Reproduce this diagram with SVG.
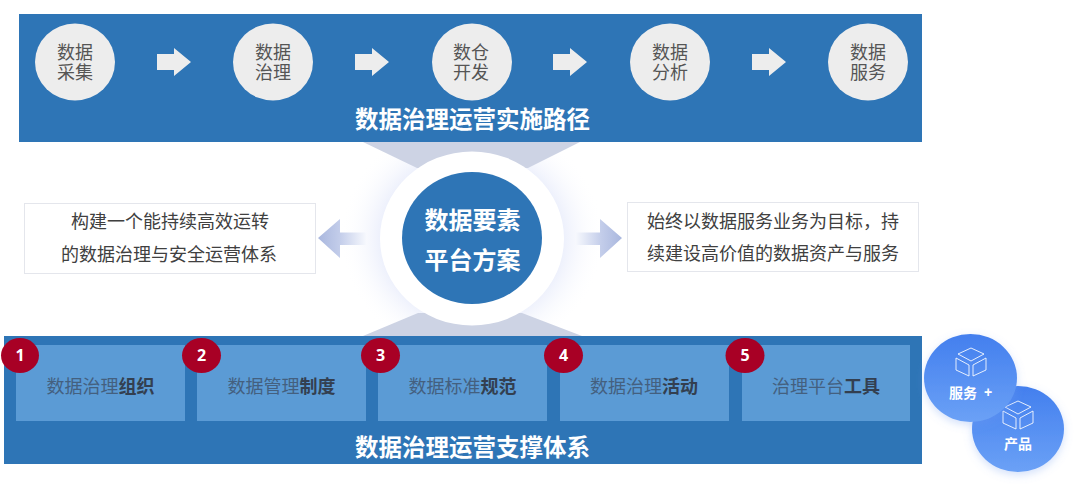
<svg xmlns="http://www.w3.org/2000/svg" width="1080" height="492" viewBox="0 0 1080 492">
<style>
text{font-family:"Liberation Sans","Noto Sans CJK SC",sans-serif;text-anchor:middle}
.band{fill:#2e75b6}
.step{fill:#ededed}
.st{font-size:18px;fill:#555}
.title{font-size:23.500px;font-weight:700;fill:#fff}
.flow{fill:#ededed}
.card{fill:#5b9bd5}
.ct{font-size:18px;fill:#44607f}
.ct tspan{font-weight:700;fill:#333f50}
.badge{fill:#a80025}
.bt{font-size:16px;font-weight:700;fill:#fff;font-family:"Open Sans","Liberation Sans",sans-serif}
.box{fill:#fff;stroke:#e4e6ec;stroke-width:1}
.bx{font-size:18px;fill:#404040}
.wedge{fill:#cdd3e4}
.ct2{font-size:24px;font-weight:700;fill:#fff}
.pill{fill:url(#pg);filter:url(#ps)}
.pt{font-size:14px;font-weight:700;fill:#fff}
.ico{fill:none;stroke:#fff;stroke-width:1;stroke-linejoin:round;opacity:.85}
</style>
<defs>
<linearGradient id="pg" x1="0" y1="0" x2="0" y2="1"><stop offset="0" stop-color="#437fee"/><stop offset="1" stop-color="#6ba1f6"/></linearGradient>
<linearGradient id="al" x1="318" y1="0" x2="366" y2="0" gradientUnits="userSpaceOnUse"><stop offset="0" stop-color="#a9b7de"/><stop offset=".45" stop-color="#c3cdea"/><stop offset="1" stop-color="#f6f8fd"/></linearGradient>
<linearGradient id="ar" x1="622" y1="0" x2="576" y2="0" gradientUnits="userSpaceOnUse"><stop offset="0" stop-color="#a9b7de"/><stop offset=".45" stop-color="#c3cdea"/><stop offset="1" stop-color="#f6f8fd"/></linearGradient>
<radialGradient id="glow"><stop offset=".7" stop-color="#eef1fc"/><stop offset="1" stop-color="#fff" stop-opacity="0"/></radialGradient>
<filter id="ps" x="-30%" y="-30%" width="160%" height="160%"><feDropShadow dx="0" dy="3" stdDeviation="4" flood-color="#6f9bf0" flood-opacity=".3"/></filter>
<g id="cube"><path class="ico" d="M0-14 13-8 0-1-13-8Z"/><path class="ico" d="M-15-4-2 3V14L-15 8Z"/><path class="ico" d="M15-4 2 3V14L15 8Z"/></g>
</defs>
<rect width="1080" height="492" fill="#fff"/>
<g id="center-glow"><ellipse cx="472" cy="238" rx="132" ry="122" fill="url(#glow)"/></g>
<g id="band-top"><rect class="band" x="19" y="14" width="903" height="128"/><text class="title" x="472.500" y="127.500">数据治理运营实施路径</text></g>
<g id="band-bottom"><rect class="band" x="4" y="336" width="918" height="128"/><text class="title" x="472.500" y="455.500">数据治理运营支撑体系</text></g>
<g id="wedges"><path class="wedge" d="M363 142H580L528 168H417Z"/><path class="wedge" d="M363 336H582L522 313H418Z"/></g>
<g id="connectors">
<path class="flow" d="M157 54H174V48L191 62 174 76V70H157Z"/>
<path class="flow" d="M355 54H372V48L389 62 372 76V70H355Z"/>
<path class="flow" d="M553 54H570V48L587 62 570 76V70H553Z"/>
<path class="flow" d="M752 54H769V48L786 62 769 76V70H752Z"/>
<path fill="url(#al)" d="M318 238 340 219V232.500H366V245H340V258Z"/>
<path fill="url(#ar)" d="M622 238 600 219V232.500H576V245H600V258Z"/>
</g>
<g id="step-1"><ellipse class="step" cx="75" cy="62" rx="40" ry="38.500"/><text class="st" x="75" y="58.500">数据</text><text class="st" x="75" y="79">采集</text></g>
<g id="step-2"><ellipse class="step" cx="273" cy="62" rx="40" ry="38.500"/><text class="st" x="273" y="58.500">数据</text><text class="st" x="273" y="79">治理</text></g>
<g id="step-3"><ellipse class="step" cx="472" cy="62" rx="40" ry="38.500"/><text class="st" x="471" y="58.500">数仓</text><text class="st" x="471" y="79">开发</text></g>
<g id="step-4"><ellipse class="step" cx="670" cy="62" rx="40" ry="38.500"/><text class="st" x="670" y="58.500">数据</text><text class="st" x="670" y="79">分析</text></g>
<g id="step-5"><ellipse class="step" cx="868" cy="62" rx="40" ry="38.500"/><text class="st" x="868" y="58.500">数据</text><text class="st" x="868" y="79">服务</text></g>
<g id="center"><ellipse cx="472" cy="238.500" rx="92" ry="87" fill="#fff"/><ellipse class="band" cx="472" cy="238" rx="70" ry="66"/><text class="ct2" x="472.500" y="228.500">数据要素</text><text class="ct2" x="472.500" y="268.500">平台方案</text></g>
<g id="note-left"><rect class="box" x="24.500" y="203.500" width="291" height="70"/><text class="bx" x="170" y="228">构建一个能持续高效运转</text><text class="bx" x="169" y="261">的数据治理与安全运营体系</text></g>
<g id="note-right"><rect class="box" x="627.500" y="202.500" width="291" height="69"/><text class="bx" x="773" y="228">始终以数据服务业务为目标，持</text><text class="bx" x="773" y="260">续建设高价值的数据资产与服务</text></g>
<g id="card-1"><rect class="card" x="16" y="345" width="169" height="76"/><text class="ct" x="100.500" y="393">数据治理<tspan>组织</tspan></text><ellipse class="badge" cx="20" cy="355.500" rx="19" ry="17.500"/><text class="bt" x="20" y="361">1</text></g>
<g id="card-2"><rect class="card" x="197" y="345" width="169" height="76"/><text class="ct" x="281.500" y="393">数据管理<tspan>制度</tspan></text><ellipse class="badge" cx="201.500" cy="355.500" rx="19.500" ry="17.500"/><text class="bt" x="201.500" y="361">2</text></g>
<g id="card-3"><rect class="card" x="378" y="345" width="169" height="76"/><text class="ct" x="462.500" y="393">数据标准<tspan>规范</tspan></text><ellipse class="badge" cx="380.500" cy="355.500" rx="19.500" ry="17.500"/><text class="bt" x="380.500" y="361">3</text></g>
<g id="card-4"><rect class="card" x="560" y="345" width="169" height="76"/><text class="ct" x="644" y="393">数据治理<tspan>活动</tspan></text><ellipse class="badge" cx="563.500" cy="355.500" rx="19.500" ry="17.500"/><text class="bt" x="563.500" y="361">4</text></g>
<g id="card-5"><rect class="card" x="742" y="345" width="168" height="76"/><text class="ct" x="826" y="393">治理平台<tspan>工具</tspan></text><ellipse class="badge" cx="745" cy="355.500" rx="19.500" ry="17.500"/><text class="bt" x="745" y="361">5</text></g>
<g id="product"><ellipse class="pill" cx="1018" cy="429" rx="46" ry="43"/><use href="#cube" x="1018" y="415"/><text class="pt" x="1018" y="449">产品</text></g>
<g id="service"><ellipse class="pill" cx="970.500" cy="378" rx="46.500" ry="44"/><use href="#cube" x="971" y="362"/><text class="pt" x="963" y="398">服务</text><text class="pt" x="988" y="397" font-size="12">+</text></g>
</svg>
